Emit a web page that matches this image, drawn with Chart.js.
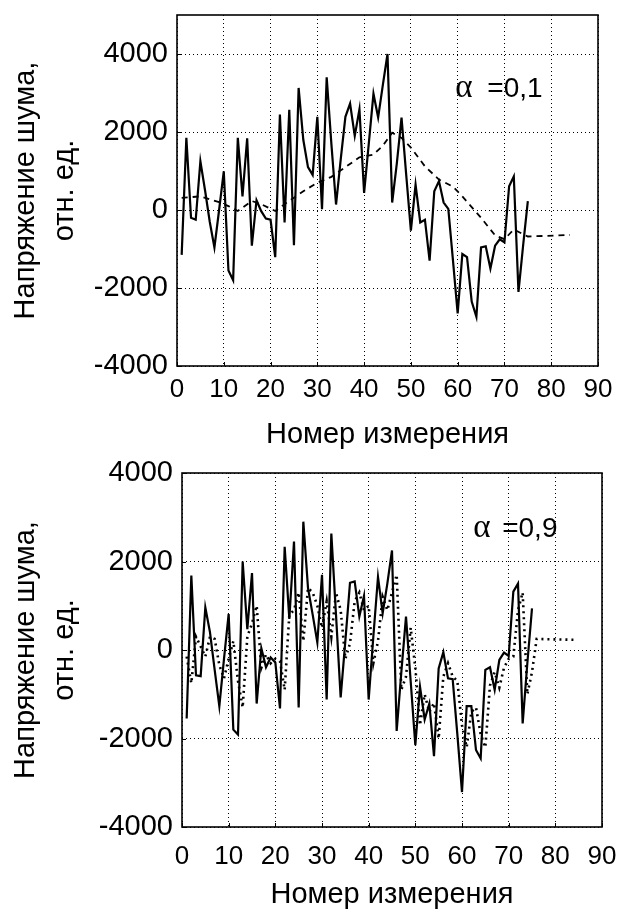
<!DOCTYPE html>
<html><head><meta charset="utf-8">
<script src="https://cdn.jsdelivr.net/npm/chart.js@4.4.0/dist/chart.umd.min.js"></script>
<style>
html,body{margin:0;padding:0;background:#fff;}
#w{position:relative;width:623px;height:914px;}
.c{position:absolute;left:0;width:623px;height:457px;}
</style></head><body>
<div id="w">
<div class="c" style="top:0"><canvas id="c1"></canvas></div>
<div class="c" style="top:457px"><canvas id="c2"></canvas></div>
</div>
<script>
// ---- data ----
const measurementNo = [1,2,3,4,5,6,7,8,9,10,11,12,13,14,15,16,17,18,19,20,21,22,23,24,25,26,27,28,29,30,31,32,33,34,35,36,37,38,39,40,41,42,43,44,45,46,47,48,49,50,51,52,53,54,55,56,57,58,59,60,61,62,63,64,65,66,67,68,69,70,71,72,73,74,75];
const xTicks = [0,10,20,30,40,50,60,70,80,90];
const yTicks = [-4000,-2000,0,2000,4000];
const yTitle = ['Напряжение шума,', 'отн. ед.'];
const xTitle = 'Номер измерения';

// top panel (alpha = 0,1)
const topNoise = [-1150,1850,-200,-250,1250,500,-300,-960,0,990,
 -1550,-1800,1850,350,1840,-915,250,-30,-220,-250,
 -1210,2450,-320,2570,-900,3130,1800,1100,900,2390,
 20,3400,1700,140,1300,2390,2730,1900,2580,440,
 1700,2980,2370,3200,4000,190,1200,2370,900,-530,
 650,-320,-250,-1300,480,740,190,30,-1300,-2650,
 -1130,-1210,-2350,-2740,-960,-930,-1500,-915,-750,-830,
 610,860,-2100,-900,230];
const topSmoothX = [1,5,9,11,13,16,18,21,23,27,30,33,36,39,42,44,46,48,50,53,56,59,61,65,68,70,72,75,84];
const topSmoothY = [310,350,200,100,-25,230,150,-25,150,480,700,850,1100,1350,1420,1650,1980,1850,1600,1120,780,600,350,-200,-650,-750,-500,-680,-640];

// bottom panel (alpha = 0,9)
const bottomNoise = [-1550,1680,-570,-590,960,400,-450,-1270,-200,815,
 -1800,-1910,2000,470,1740,-1210,40,-390,-170,-280,
 -1320,2330,700,2450,-1300,2900,1400,800,170,1700,
 -1120,2630,800,-1070,200,1520,1550,755,1220,-1120,
 300,1650,830,1500,2250,-1830,-500,755,-700,-2150,
 -830,-1570,-1210,-2400,-415,-50,-640,-660,-1900,-3210,
 -1270,-1270,-2260,-2450,-450,-390,-900,-225,-60,-135,
 1320,1500,-1660,-300,940];
const bottomSmoothX = [1,2,3,4,5,6,7,8,9,10,11,12,13,14,15,16,17,18,19,20,21,22,23,24,25,26,27,28,29,30,31,32,33,34,35,36,37,38,39,40,41,42,43,44,45,46,47,48,49,50,51,52,53,54,55,56,57,58,59,60,61,62,63,64,65,66,67,68,69,70,71,72,73,74,75,76,84];
const bottomSmoothY = [-150,-750,300,80,-150,300,250,-340,-640,-200,
 200,-700,-1300,300,600,1000,-400,-100,-300,-200,
 -250,-900,800,900,1300,200,1400,1300,1000,500,
 1100,300,1300,900,-200,150,1100,1300,900,1000,
 -300,200,1200,900,1300,1700,-900,-600,500,-400,
 -1700,-1000,-1400,-1200,-2000,-600,-300,-600,-700,-1700,
 -2200,-1400,-1300,-1900,-2200,-800,-500,-850,-400,-200,
 -150,900,1300,-1000,-500,250,230];

// ---- drawing ----
const FONT = '"Liberation Sans", Arial, sans-serif';

const framePlugin = {
  id: 'frame',
  afterDatasetsDraw(chart, args, opts) {
    const {ctx, chartArea: a, scales: {x, y}} = chart;
    ctx.save();
    ctx.strokeStyle = '#000';
    ctx.lineWidth = 1.6;
    ctx.strokeRect(a.left, a.top, a.right - a.left, a.bottom - a.top);
    ctx.lineWidth = 1;
    ctx.beginPath();
    x.ticks.forEach(t => {
      const px = Math.round(x.getPixelForValue(t.value)) + 0.5;
      ctx.moveTo(px, a.bottom); ctx.lineTo(px, a.bottom - 4);
    });
    y.ticks.forEach(t => {
      const py = Math.round(y.getPixelForValue(t.value)) + 0.5;
      ctx.moveTo(a.left, py); ctx.lineTo(a.left + 4, py);
    });
    ctx.stroke();
    // alpha label
    const px = x.getPixelForValue(opts.x), py = y.getPixelForValue(opts.y);
    ctx.fillStyle = '#000';
    ctx.textBaseline = 'alphabetic';
    ctx.textAlign = 'left';
    ctx.font = '33px "Liberation Serif", "DejaVu Serif", serif';
    ctx.fillText('α', px, py);
    ctx.font = '28px ' + FONT;
    ctx.fillText('=' + opts.text, px + opts.gap, py);
    ctx.restore();
  }
};

function makeChart(id, noise, smX, smY, dash, dashWidth, yMax, p) {
  const pts = measurementNo.map((m, i) => ({x: m, y: noise[i]}));
  const sm = smX.map((m, i) => ({x: m, y: smY[i]}));
  return new Chart(document.getElementById(id), {
    type: 'line',
    data: {
      datasets: [
        {data: pts, borderColor: '#000', borderWidth: 2.2, pointRadius: 0, tension: 0, fill: false},
        {data: sm, borderColor: '#000', borderWidth: dashWidth, borderDash: dash, pointRadius: 0, tension: 0, fill: false}
      ]
    },
    options: {
      responsive: true, maintainAspectRatio: false, animation: false,
      events: [],
      layout: {padding: {top: p.top, right: p.right, left: 0, bottom: 0}},
      plugins: {legend: {display: false}, tooltip: {enabled: false},
        frame: {x: p.ax, y: p.ay, text: p.atext, gap: p.agap}},
      scales: {
        x: {
          type: 'linear', min: 0, max: 90,
          afterBuildTicks: s => { s.ticks = xTicks.map(v => ({value: v})); },
          afterFit: s => { s.height = p.xh; s.paddingLeft = 0; s.paddingRight = 0; },
          ticks: {color: '#000', font: {family: FONT, size: 26}, padding: p.xpad, maxRotation: 0, autoSkip: false,
                  callback: v => String(v)},
          grid: {color: '#000', lineWidth: 1, drawTicks: false},
          border: {display: false, dash: [1, 3]},
          title: {display: true, text: xTitle, color: '#000', font: {family: FONT, size: 29}, padding: {top: 0, bottom: p.xtpad}}
        },
        y: {
          type: 'linear', min: -4000, max: yMax,
          afterBuildTicks: s => { s.ticks = yTicks.map(v => ({value: v})); },
          afterFit: s => { s.width = p.yw; s.paddingTop = 0; s.paddingBottom = 0; },
          ticks: {color: '#000', font: {family: FONT, size: 29}, padding: 9, autoSkip: false,
                  callback: v => String(v)},
          grid: {color: '#000', lineWidth: 1, drawTicks: false},
          border: {display: false, dash: [1, 3]},
          title: {display: true, text: yTitle, color: '#000', font: {family: FONT, size: 29, lineHeight: 1.345}, padding: {top: 6, bottom: 0}}
        }
      }
    },
    plugins: [framePlugin]
  });
}

makeChart('c1', topNoise, topSmoothX, topSmoothY, [6, 5], 1.8, 5000,
  {top: 15, right: 25, yw: 177, xh: 91, xpad: 8, xtpad: 5, ax: 59.5, ay: 2900, atext: '0,1', agap: 32});
makeChart('c2', bottomNoise, bottomSmoothX, bottomSmoothY, [2, 4], 2.6, 4000,
  {top: 16, right: 21, yw: 182, xh: 87, xpad: 14, xtpad: 2, ax: 62.4, ay: 2560, atext: '0,9', agap: 29});
</script>
</body></html>
